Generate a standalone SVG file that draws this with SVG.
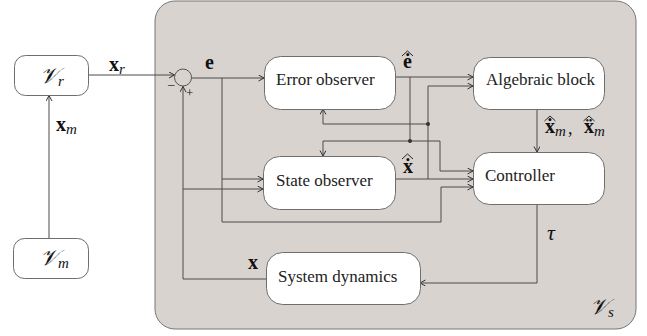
<svg xmlns="http://www.w3.org/2000/svg" width="647" height="336" viewBox="0 0 647 336">
<style>
.box{fill:#ffffff;stroke:#6e6e6e;stroke-width:1}
.ln{fill:none;stroke:#4a4a4a;stroke-width:1}
text{font-family:'Liberation Serif','Times New Roman','DejaVu Serif',serif}
.lbl{font-size:17px;fill:#222}
.m{fill:#111}
.b{font-weight:bold;font-size:20px}
.i{font-style:italic}
.sub{font-style:italic;font-size:15px;font-weight:normal}
.hat{fill:none;stroke:#111;stroke-width:0.9}
</style>
<defs>
<marker id="ar" markerWidth="8" markerHeight="8" refX="6" refY="3" orient="auto" markerUnits="userSpaceOnUse">
<path d="M0.5,0 L6,3 L0.5,6" fill="none" stroke="#333" stroke-width="1"/>
</marker>
</defs>
<rect x="155" y="1" width="481" height="328" rx="20" fill="#d9d3d0" stroke="#777" stroke-width="1"/>

<g id="connectors">
<path class="ln" d="M49,238 V95.5" marker-end="url(#ar)"/>
<path class="ln" d="M88,75 H174.5" marker-end="url(#ar)"/>
<circle cx="183" cy="77.5" r="8.5" fill="none" stroke="#555"/>
<path class="ln" d="M191.5,78 H264" marker-end="url(#ar)"/>
<path class="ln" d="M222,78 V222 H441 V187 H473" marker-end="url(#ar)"/>
<path class="ln" d="M222,179 H263" marker-end="url(#ar)"/>
<path class="ln" d="M266,279 H183 V86.5" marker-end="url(#ar)"/>
<path class="ln" d="M183,189 H263" marker-end="url(#ar)"/>
<path class="ln" d="M395,77 H473" marker-end="url(#ar)"/>
<path class="ln" d="M410,77 V141"/>
<path class="ln" d="M440,141 H323 V156" marker-end="url(#ar)"/>
<path class="ln" d="M440,141 V171 H473" marker-end="url(#ar)"/>
<path class="ln" d="M395,179 H473" marker-end="url(#ar)"/>
<path class="ln" d="M428,179 V86 H473" marker-end="url(#ar)"/>
<path class="ln" d="M428,124 H323 V109" marker-end="url(#ar)"/>
<circle cx="428" cy="124" r="2" fill="#333"/>
<circle cx="410" cy="141" r="2" fill="#333"/>
<path class="ln" d="M537,109 V152" marker-end="url(#ar)"/>
<path class="ln" d="M537,204 V283 H420" marker-end="url(#ar)"/>
</g>

<g id="Vr"><rect class="box" x="14.5" y="55.5" width="74" height="40" rx="11"/>
<text class="m i" x="40" y="83" font-size="22">𝒱<tspan class="sub" dy="3">r</tspan></text></g>
<g id="Vm"><rect class="box" x="13.5" y="238.5" width="75" height="40" rx="11"/>
<text class="m i" x="40" y="265" font-size="22">𝒱<tspan class="sub" dy="3">m</tspan></text></g>
<g id="error-observer"><rect class="box" x="264.5" y="56.5" width="131" height="53" rx="16"/>
<text class="lbl" x="276" y="85">Error observer</text></g>
<g id="algebraic-block"><rect class="box" x="473.5" y="57.5" width="131" height="52" rx="16"/>
<text class="lbl" x="486" y="85">Algebraic block</text></g>
<g id="state-observer"><rect class="box" x="263.5" y="156.5" width="132" height="53" rx="16"/>
<text class="lbl" x="276" y="186">State observer</text></g>
<g id="controller"><rect class="box" x="473.5" y="152.5" width="131" height="52" rx="16"/>
<text class="lbl" x="485" y="181">Controller</text></g>
<g id="system-dynamics"><rect class="box" x="266.5" y="252.5" width="154" height="52" rx="16"/>
<text class="lbl" x="278" y="282" font-size="17.5">System dynamics</text></g>

<g id="labels">
<text class="m b" x="109" y="71">x<tspan class="sub" dy="3">r</tspan></text>
<text class="m b" x="56" y="131">x<tspan class="sub" dy="3">m</tspan></text>
<text class="m b" x="205" y="69">e</text>
<text class="m" x="168" y="88" font-size="13">–</text>
<text class="m" x="186" y="97" font-size="13">+</text>
<text class="m b" x="403" y="68">ė</text>
<path class="hat" d="M402,56 L407.5,51 L413,56"/>
<text class="m b" x="403" y="173">x&#x307;</text>
<path class="hat" d="M402,159 L407.5,154 L413,159"/>
<text class="m b" x="545" y="133">x&#x307;<tspan class="sub" dy="3">m</tspan></text>
<text class="m" x="568" y="134" font-size="18">,</text>
<text class="m b" x="584" y="133">x&#x308;<tspan class="sub" dy="3">m</tspan></text>
<path class="hat" d="M544.5,121 L550,116 L555.5,121"/>
<path class="hat" d="M583.5,121 L589,116 L594.5,121"/>
<text class="m i" x="547" y="240" font-size="22">τ</text>
<text class="m b" x="248" y="269">x</text>
<text class="m i" x="590" y="314" font-size="22">𝒱<tspan class="sub" dy="3">s</tspan></text>
</g>
</svg>
